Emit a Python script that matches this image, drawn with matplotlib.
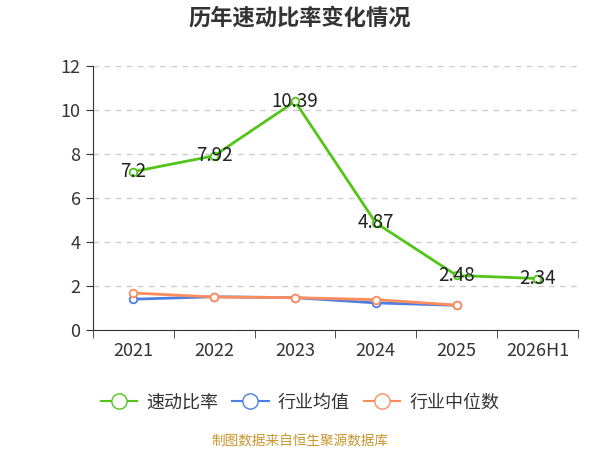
import numpy as np
import matplotlib.pyplot as plt
from matplotlib.lines import Line2D

plt.rcParams['font.family'] = ['Noto Sans CJK SC', 'DejaVu Sans']

# ---------- data ----------
years = ["2021", "2022", "2023", "2024", "2025", "2026H1"]
quick_ratio = [7.2, 7.92, 10.39, 4.87, 2.48, 2.34]
industry_mean = [1.40, 1.51, 1.47, 1.23, 1.12]
industry_median = [1.68, 1.50, 1.47, 1.38, 1.13]

green = "#52c41a"
blue = "#4d7fe0"
orange = "#ff8c5c"

fig = plt.figure(figsize=(6, 4.5), dpi=100)
ax = fig.add_axes([0.155, 0.2667, 0.808, 0.5866])

x = np.arange(len(years))
marker_kw = dict(marker="o", markersize=5.5, markerfacecolor="white", markeredgewidth=1.3)

ax.plot(x[:len(industry_mean)], industry_mean, color=blue, lw=2, markeredgecolor=blue, zorder=3, **marker_kw)
ax.plot(x[:len(industry_median)], industry_median, color=orange, lw=2, markeredgecolor=orange, zorder=4, **marker_kw)
ax.plot(x, quick_ratio, color=green, lw=2, markeredgecolor=green, zorder=5, **marker_kw)

for xi, v in zip(x, quick_ratio):
    ax.text(xi, v, f"{v:g}", ha="center", va="center", fontsize=13.5, color="#222222", zorder=6)

ax.set_xlim(-0.5, len(years) - 0.5)
ax.set_ylim(0, 12)
ax.set_yticks(range(0, 13, 2))
ax.set_xticks(x)
ax.set_xticklabels(years)
ax.set_xticks(np.arange(-0.5, len(years), 1), minor=True)
ax.tick_params(axis="x", which="major", length=0, pad=9, labelsize=13, colors="#333333")
ax.tick_params(axis="x", which="minor", length=6, color="#333333")
ax.tick_params(axis="y", length=5, labelsize=13, colors="#333333", pad=4)

ax.grid(axis="y", linestyle=(0, (4, 4)), color="#cccccc", lw=1)
ax.set_axisbelow(True)
for s in ["top", "right"]:
    ax.spines[s].set_visible(False)
ax.spines["left"].set_color("#333333")
ax.spines["bottom"].set_color("#333333")

fig.text(0.5, 0.96, "历年速动比率变化情况", ha="center", va="center",
         fontsize=16, fontweight="bold", color="#333333")

handles = [
    Line2D([], [], color=green, lw=1.5, marker="o", markersize=11, markerfacecolor="white", markeredgecolor=green),
    Line2D([], [], color=blue, lw=1.5, marker="o", markersize=11, markerfacecolor="white", markeredgecolor=blue),
    Line2D([], [], color=orange, lw=1.5, marker="o", markersize=11, markerfacecolor="white", markeredgecolor=orange),
]
fig.legend(handles, ["速动比率", "行业均值", "行业中位数"], loc="center",
           bbox_to_anchor=(0.5, 0.105), ncol=3, frameon=False, fontsize=13,
           handlelength=2.0, columnspacing=0.8, handletextpad=0.5, labelcolor="#333333")

fig.text(0.5, 0.02, "制图数据来自恒生聚源数据库", ha="center", va="center",
         fontsize=9.8, color="#c8962e")

fig.savefig("out.png", dpi=100)
